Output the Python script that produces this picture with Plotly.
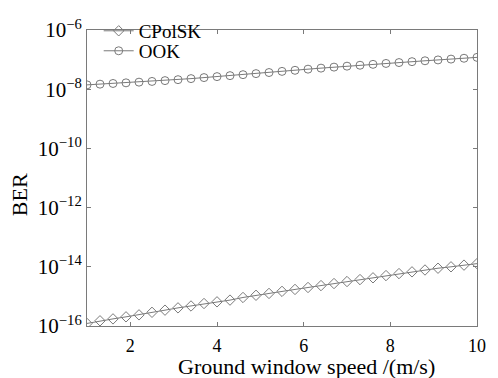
import plotly.graph_objects as go

speed = [1.0, 1.3, 1.6, 1.9, 2.2, 2.5, 2.8, 3.1, 3.4, 3.7, 4.0, 4.3, 4.6, 4.9, 5.2, 5.5,
         5.8, 6.1, 6.4, 6.7, 7.0, 7.3, 7.6, 7.9, 8.2, 8.5, 8.8, 9.1, 9.4, 9.7, 10.0]

ber_cpolsk = [1.22e-16, 1.50e-16, 1.74e-16, 2.04e-16, 2.38e-16, 2.90e-16, 3.43e-16, 4.10e-16,
              4.75e-16, 5.75e-16, 6.55e-16, 7.50e-16, 9.20e-16, 1.09e-15, 1.26e-15, 1.48e-15,
              1.72e-15, 2.00e-15, 2.32e-15, 2.72e-15, 3.18e-15, 3.70e-15, 4.25e-15, 5.05e-15,
              5.90e-15, 6.75e-15, 7.80e-15, 8.95e-15, 1.00e-14, 1.14e-14, 1.28e-14]

ber_ook = [1.40e-8, 1.48e-8, 1.56e-8, 1.64e-8, 1.73e-8, 1.83e-8, 1.95e-8, 2.10e-8,
           2.28e-8, 2.47e-8, 2.66e-8, 2.87e-8, 3.10e-8, 3.36e-8, 3.66e-8, 4.00e-8,
           4.35e-8, 4.75e-8, 5.15e-8, 5.57e-8, 6.00e-8, 6.45e-8, 6.92e-8, 7.42e-8,
           7.95e-8, 8.52e-8, 9.12e-8, 9.75e-8, 1.04e-7, 1.11e-7, 1.19e-7]

x_ticks = [2, 4, 6, 8, 10]
y_exps = [-16, -14, -12, -10, -8, -6]
y_ticks = [10.0 ** e for e in y_exps]
y_ticktext = ["10<sup>−%d</sup>" % (-e) for e in y_exps]

font_family = "Liberation Serif"
gray = "#7a7a7a"

fig = go.Figure()
fig.add_trace(go.Scatter(
    x=speed, y=ber_cpolsk, name="CPolSK", mode="lines+markers", legend="legend",
    line=dict(color=gray, width=1),
    marker=dict(symbol="diamond-open", size=8, color=gray, line=dict(width=1)),
))
fig.add_trace(go.Scatter(
    x=speed, y=ber_ook, name="OOK", mode="lines+markers", legend="legend2",
    line=dict(color=gray, width=1),
    marker=dict(symbol="circle-open", size=8, color=gray, line=dict(width=1)),
))

legend_common = dict(xanchor="left", yanchor="top", bgcolor="rgba(0,0,0,0)",
                     borderwidth=0, font=dict(size=19, family=font_family))

fig.update_layout(
    width=498, height=378,
    margin=dict(l=87, r=15, t=16, b=52),
    paper_bgcolor="white", plot_bgcolor="white",
    font=dict(family=font_family, color="black", size=20),
    showlegend=True,
    legend=dict(x=0.03, y=1.061, **legend_common),
    legend2=dict(x=0.03, y=0.9935, **legend_common),
    xaxis=dict(
        range=[1, 10], tickvals=x_ticks, ticktext=[str(v) for v in x_ticks],
        showline=True, linecolor=gray, linewidth=1, mirror="ticks",
        ticks="inside", ticklen=4, tickcolor=gray, showgrid=False, zeroline=False,
        tickfont=dict(size=18), ticklabelstandoff=3,
    ),
    yaxis=dict(
        type="log", range=[-16, -6], tickvals=y_ticks, ticktext=y_ticktext,
        showline=True, linecolor=gray, linewidth=1, mirror="ticks",
        ticks="inside", ticklen=4, tickcolor=gray, showgrid=False, zeroline=False,
        tickfont=dict(size=21),
    ),
    annotations=[
        dict(text="Ground window speed /(m/s)", xref="paper", yref="paper",
             x=(310 - 87) / 396, y=-(368 - 326) / 310, xanchor="center", yanchor="middle",
             showarrow=False, font=dict(size=22, family=font_family)),
        dict(text="BER", xref="paper", yref="paper",
             x=-(87 - 18) / 396, y=(326 - 189) / 310, xanchor="center", yanchor="middle",
             textangle=-90, showarrow=False, font=dict(size=22, family=font_family)),
    ],
)

fig.write_html("out.html")
